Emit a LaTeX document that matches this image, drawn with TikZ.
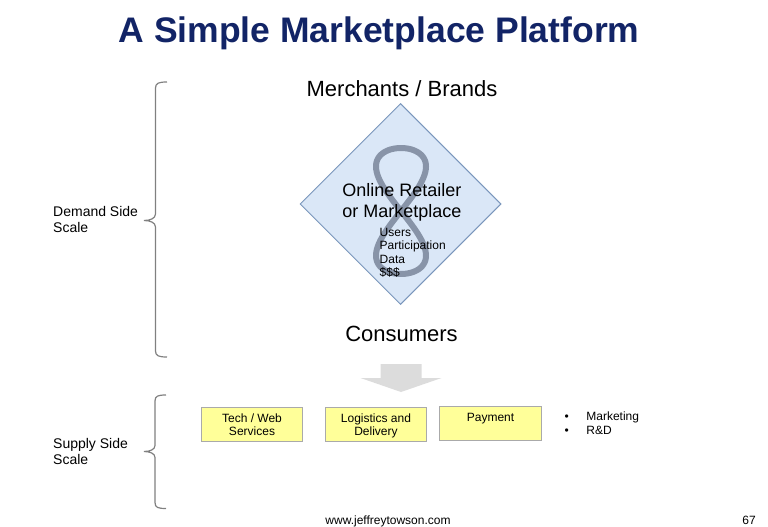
\documentclass[tikz,border=0pt]{standalone}
\usepackage{fontspec}
\setmainfont{Liberation Sans}
\usetikzlibrary{shapes.geometric,positioning}
\definecolor{titleblue}{RGB}{18,36,102}
\definecolor{hubfill}{RGB}{218,231,247}
\definecolor{hubline}{RGB}{122,150,188}
\definecolor{loopgray}{RGB}{128,140,160}
\definecolor{boxfill}{RGB}{255,255,153}
\definecolor{boxline}{RGB}{170,170,170}
\definecolor{braceline}{RGB}{128,128,128}
\definecolor{arrowgray}{RGB}{220,220,220}

\begin{document}
\begin{tikzpicture}[x=1pt,y=-1pt,
					every node/.style={inner sep=0pt},
					title/.style={font=\fontsize{35.5}{40}\selectfont\bfseries,text=titleblue},
					side/.style={font=\fontsize{22}{26}\selectfont},
					scale label/.style={font=\fontsize{14}{16}\selectfont,align=left,anchor=base west},
					hub/.style={diamond,draw=hubline,fill=hubfill,line width=1pt,minimum size=201pt},
					service/.style={draw=boxline,fill=boxfill,line width=1pt,minimum width=101pt,
						minimum height=34pt,font=\fontsize{12}{13.5}\selectfont,align=center,
						text height=23pt,text depth=0pt},
					brace/.style={draw=braceline,line width=1.2pt}]

  \useasboundingbox (0,0) rectangle (768,527);

  % title
  \node[title,anchor=base] (title) at (379,42.7) {A Simple Marketplace Platform};

  % the platform in the middle
  \node[hub] (hub) at (400.5,204) {};
  \draw[loopgray,line width=6pt,opacity=0.9] plot[domain=0:360,samples=120,smooth]
    ({401+25*sin(2*\x)},{211-63*cos(\x)});
  \node[anchor=base,align=center,font=\fontsize{18}{21}\selectfont] (retailer) at (402,217)
    {Online Retailer\\or Marketplace};
  \node[anchor=base west,align=left,font=\fontsize{12}{13.3}\selectfont] (assets) at (379.5,276.5)
    {Users\\Participation\\Data\\\$\$\$};

  \node[side,anchor=base] (merchants) at (402,96) {Merchants / Brands};
  \node[side,anchor=base] (consumers) at (401.5,341) {Consumers};

  % block arrow down to the services
  \coordinate (arrow) at (401,364);
  \fill[arrowgray] (arrow) ++(-20.5,0) -- ++(41,0) -- ++(0,14) -- ++(20,0)
    -- ++(-40.5,14) -- ++(-40.5,-14) -- ++(20,0) -- cycle;

  % supply side
  \node[service] (tech) at (252,424) {Tech / Web\\Services};
  \node[service] (logistics) at (376,424) {Logistics and\\Delivery};
  \node[service,minimum width=102pt,text height=0pt,
        label={[anchor=north,inner sep=0pt,yshift=-7.5pt,font=\fontsize{12}{13.5}\selectfont]north:Payment}]
        (payment) at (490.5,423) {};
  \node[anchor=base west,align=left,font=\fontsize{12}{13.5}\selectfont] (other) at (564.5,434)
    {\textbullet\hspace{17.5pt}Marketing\\\textbullet\hspace{17.5pt}R\&D};

  % scale braces and labels
  \node[scale label] (demand) at (53,232) {Demand Side\\Scale};
  \node[scale label] (supply) at (53,464.5) {Supply Side\\Scale};

  \draw[brace] (167,82) .. controls (159,82) and (155.5,83) .. (155.5,88) -- (155.5,214)
    .. controls (155.5,218.5) and (150,220.5) .. (144,220.5)
    .. controls (150,220.5) and (155.5,222.5) .. (155.5,227) -- (155.5,351)
    .. controls (155.5,356) and (159,357) .. (167,357);
  \draw[brace] (166,395) .. controls (158,395) and (155,396) .. (155,401) -- (155,445.5)
    .. controls (155,449.5) and (150,451.5) .. (144,451.5)
    .. controls (150,451.5) and (155,453.5) .. (155,457.5) -- (155,502.5)
    .. controls (155,507.5) and (158,508.5) .. (166,508.5);

  % footer
  \node[anchor=base,font=\fontsize{12}{14}\selectfont] (site) at (388,524.5) {www.jeffreytowson.com};
  \node[anchor=base east,font=\fontsize{12}{14}\selectfont] (page) at (756,524.5) {67};
\end{tikzpicture}
\end{document}
